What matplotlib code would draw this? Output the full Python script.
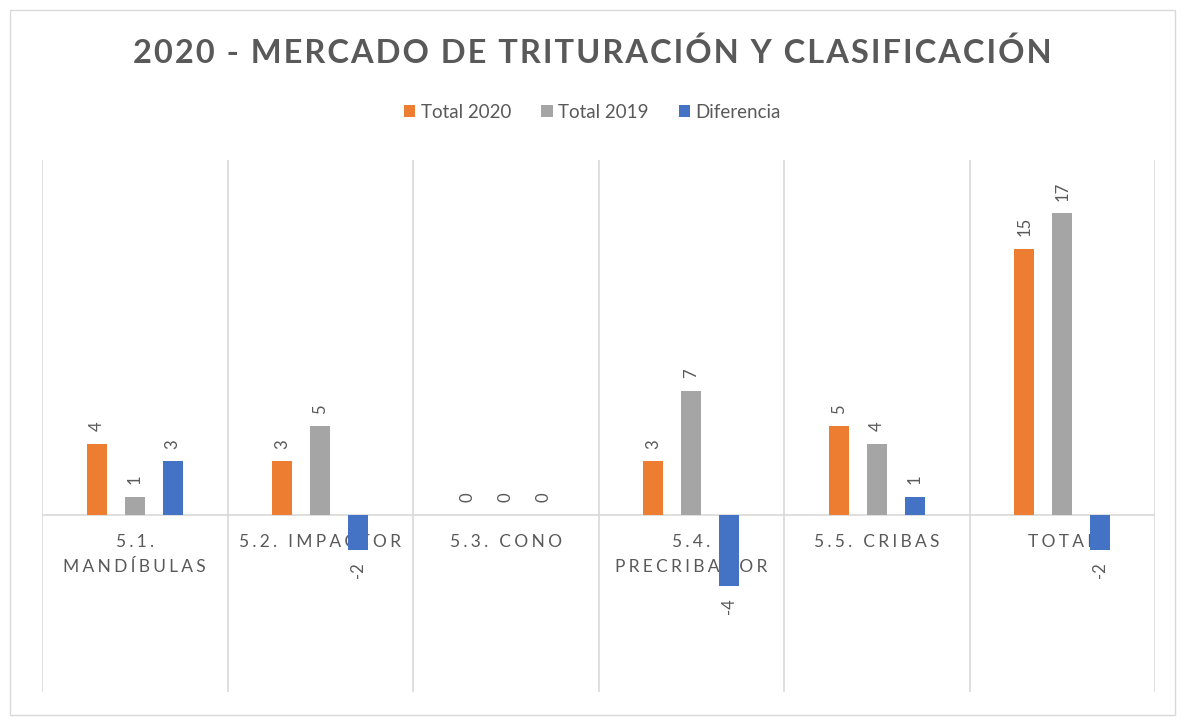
import matplotlib
matplotlib.use("Agg")
import matplotlib.pyplot as plt
from matplotlib.patches import Rectangle

plt.rcParams['font.family'] = ['Lato', 'DejaVu Sans']

categorias = ["5.1.\nMANDÍBULAS", "5.2. IMPACTOR", "5.3. CONO",
              "5.4.\nPRECRIBADOR", "5.5. CRIBAS", "TOTAL"]
total_2020 = [4, 3, 0, 3, 5, 15]
total_2019 = [1, 5, 0, 7, 4, 17]
diferencia = [3, -2, 0, -4, 1, -2]

series = [("Total 2020", total_2020, "#ED7D31"),
          ("Total 2019", total_2019, "#A5A5A5"),
          ("Diferencia", diferencia, "#4472C4")]

gris = "#595959"
linea = "#D9D9D9"


def espaciar(txt, sep="\u2009"):
    # letter spacing a la Excel
    return "\n".join(sep.join(list(l)) for l in txt.split("\n"))


fig = plt.figure(figsize=(11.85, 7.22), dpi=100)
fig.patches.append(Rectangle((10 / 1185, 7 / 722), 1165 / 1185, 705 / 722,
                             transform=fig.transFigure, fill=False,
                             edgecolor=linea, linewidth=1))
ax = fig.add_axes([42 / 1185, 30 / 722, 1113 / 1185, 532 / 722])

ancho = 0.108
paso = 0.205
x = list(range(len(categorias)))
for k, (nombre, vals, color) in enumerate(series):
    pos = [i + (k - 1) * paso for i in x]
    ax.bar(pos, vals, width=ancho, color=color, label=nombre, zorder=3)
    for p, v in zip(pos, vals):
        if v >= 0:
            ax.annotate(str(v), (p, v), xytext=(0, 9), textcoords="offset points",
                        rotation=90, ha="center", va="bottom", color=gris,
                        fontsize=12, zorder=4)
        else:
            ax.annotate(str(v), (p, v), xytext=(0, -9), textcoords="offset points",
                        rotation=90, ha="center", va="top", color=gris,
                        fontsize=12, zorder=4)

for i, c in enumerate(categorias):
    ax.annotate(espaciar(c, "\u2009\u200a"), (i, 0), xytext=(0, -14),
                textcoords="offset points", ha="center", va="top", color=gris,
                fontsize=12.5, linespacing=1.65, zorder=2)

ax.set_xlim(-0.5, len(categorias) - 0.5)
ax.set_ylim(-10, 20)
for b in range(len(categorias) + 1):
    ax.axvline(b - 0.5, color=linea, linewidth=1.2, zorder=1)
ax.axhline(0, color=linea, linewidth=1.2, zorder=1)
for s in ax.spines.values():
    s.set_visible(False)
ax.set_xticks([])
ax.set_yticks([])

fig.text(0.5, 1 - 53 / 722, espaciar("2020 - MERCADO DE TRITURACIÓN Y CLASIFICACIÓN", "\u200a"),
         ha="center", va="center", fontsize=23.5, fontweight="bold", color=gris)
fig.legend(loc="center", bbox_to_anchor=(0.5, 1 - 112 / 722), ncol=3, frameon=False,
           fontsize=13.5, labelcolor=gris, handlelength=0.6, handleheight=0.6,
           handletextpad=0.3, columnspacing=1.6)

fig.savefig("out.png", dpi=100)
